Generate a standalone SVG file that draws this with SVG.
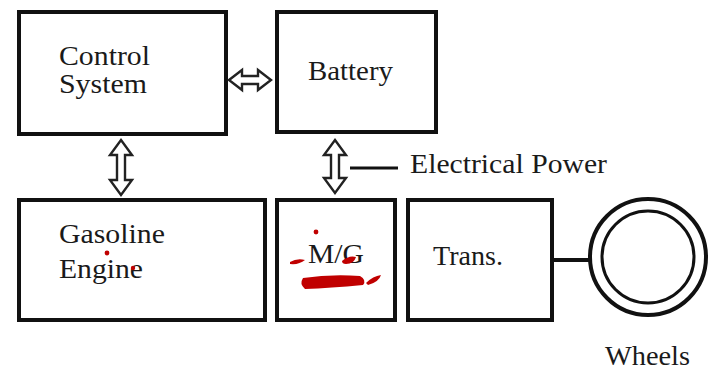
<svg xmlns="http://www.w3.org/2000/svg" width="718" height="383" viewBox="0 0 718 383">
  <style>
    .box { fill: #ffffff; stroke: #111111; stroke-width: 4; }
    .lbl { font-family: "Liberation Serif", "Times New Roman", serif; font-size: 27px; fill: #1a1a1a; }
    .arr { fill: #ffffff; stroke: #222222; stroke-width: 2.4; stroke-linejoin: miter; }
    .ln { stroke: #111111; stroke-width: 3; fill: none; }
    .red { fill: #c00000; stroke: none; }
  </style>
  <rect x="0" y="0" width="718" height="383" fill="#ffffff"/>

  <g id="control-system">
    <rect class="box" x="19" y="12" width="207" height="122"/>
    <text class="lbl" x="59" y="65" textLength="91" lengthAdjust="spacingAndGlyphs">Control</text>
    <text class="lbl" x="59" y="93" textLength="88" lengthAdjust="spacingAndGlyphs">System</text>
  </g>

  <g id="battery">
    <rect class="box" x="277" y="12" width="159" height="120"/>
    <text class="lbl" x="308" y="80" textLength="85" lengthAdjust="spacingAndGlyphs">Battery</text>
  </g>

  <g id="gasoline-engine">
    <rect class="box" x="19" y="200" width="246" height="120"/>
    <text class="lbl" x="59" y="243" textLength="106" lengthAdjust="spacingAndGlyphs">Gasoline</text>
    <text class="lbl" x="59" y="278" textLength="84" lengthAdjust="spacingAndGlyphs">Engine</text>
  </g>

  <g id="motor-generator">
    <rect class="box" x="277" y="200" width="118" height="120"/>
    <text class="lbl" x="308" y="263" textLength="56" lengthAdjust="spacingAndGlyphs">M/G</text>
  </g>

  <g id="transmission">
    <rect class="box" x="408" y="200" width="144" height="120"/>
    <text class="lbl" x="433" y="265" textLength="70" lengthAdjust="spacingAndGlyphs">Trans.</text>
  </g>

  <g id="wheels">
    <circle cx="648" cy="257" r="58" fill="#ffffff" stroke="#111111" stroke-width="4"/>
    <circle cx="648" cy="257" r="46" fill="#ffffff" stroke="#111111" stroke-width="3"/>
    <text class="lbl" x="605" y="365" textLength="85" lengthAdjust="spacingAndGlyphs">Wheels</text>
  </g>

  <g id="electrical-power-label">
    <text class="lbl" x="410" y="173" textLength="197" lengthAdjust="spacingAndGlyphs">Electrical Power</text>
  </g>

  <g id="connectors">
    <!-- Control System <-> Battery -->
    <polygon class="arr" points="229,80 242,70 242,76 258,76 258,70 271,80 258,90 258,84 242,84 242,90"/>
    <!-- Control System <-> Gasoline Engine -->
    <polygon class="arr" points="121,140 132,155 125,155 125,180 132,180 121,195 110,180 117,180 117,155 110,155"/>
    <!-- Battery <-> M/G -->
    <polygon class="arr" points="335,140 346,155 339,155 339,178 346,178 335,193 324,178 331,178 331,155 324,155"/>
    <!-- Electrical Power leader -->
    <line class="ln" x1="350" y1="168" x2="398" y2="168"/>
    <!-- Trans. to Wheels -->
    <line x1="552" y1="260" x2="590" y2="260" stroke="#111111" stroke-width="4"/>
  </g>

  <g id="annotations">
    <circle class="red" cx="107" cy="253" r="2.4"/>
    <circle class="red" cx="133" cy="268" r="2.2"/>
    <circle class="red" cx="316" cy="232" r="2.4"/>
    <path class="red" d="M290,262 Q297,258 305,260 Q299,265 290,264 Z"/>
    <path class="red" d="M342,261 Q349,255 356,257 Q354,264 346,264 Q342,264 342,261 Z"/>
    <path class="red" d="M303,278 Q330,274 360,276 Q367,280 363,285 Q330,288 305,289 Q299,284 303,278 Z"/>
    <path class="red" d="M366,283 Q373,276 381,275 Q379,282 368,285 Z"/>
  </g>
</svg>
